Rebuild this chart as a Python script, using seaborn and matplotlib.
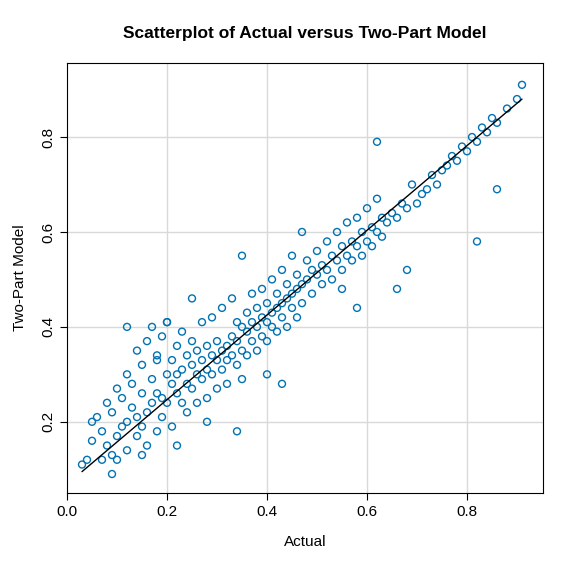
import matplotlib
matplotlib.use("Agg")
import matplotlib.pyplot as plt
import seaborn as sns
import pandas as pd

# Representative points
actual = [0.03,0.04,0.05,0.05,0.06,0.07,0.07,0.08,0.08,0.09,0.09,0.10,0.10,0.10,0.11,0.11,0.12,0.12,0.12,0.13,
          0.13,0.14,0.14,0.14,0.15,0.15,0.15,0.16,0.16,0.16,0.17,0.17,0.17,0.18,0.18,0.18,0.19,0.19,0.19,0.20,
          0.20,0.20,0.21,0.21,0.21,0.22,0.22,0.22,0.23,0.23,0.23,0.24,0.24,0.24,0.25,0.25,0.25,0.26,0.26,0.26,
          0.27,0.27,0.27,0.28,0.28,0.28,0.29,0.29,0.29,0.30,0.30,0.30,0.31,0.31,0.31,0.32,0.32,0.32,0.33,0.33,
          0.33,0.34,0.34,0.34,0.35,0.35,0.35,0.36,0.36,0.36,0.37,0.37,0.37,0.38,0.38,0.38,0.39,0.39,0.39,0.40,
          0.40,0.40,0.41,0.41,0.41,0.42,0.42,0.42,0.43,0.43,0.43,0.44,0.44,0.44,0.45,0.45,0.45,0.46,0.46,0.46,
          0.47,0.47,0.48,0.48,0.49,0.49,0.50,0.50,0.51,0.51,0.52,0.52,0.53,0.53,0.54,0.54,0.55,0.55,0.56,0.56,
          0.57,0.57,0.58,0.58,0.59,0.59,0.60,0.60,0.61,0.61,0.62,0.62,0.63,0.63,0.64,0.65,0.66,0.67,0.68,0.69,
          0.70,0.71,0.72,0.73,0.74,0.75,0.76,0.77,0.78,0.79,0.80,0.81,0.82,0.83,0.84,0.85,0.86,0.88,0.90,0.91,
          0.62,0.86,0.82,0.66,0.12,0.09,0.25,0.34,0.15,0.20,0.43,0.58,0.68,0.35,0.22,0.18,0.28,0.47,0.55,0.40]
model  = [0.11,0.12,0.20,0.16,0.21,0.18,0.12,0.24,0.15,0.22,0.13,0.27,0.17,0.12,0.25,0.19,0.30,0.20,0.14,0.23,
          0.28,0.35,0.21,0.17,0.26,0.32,0.19,0.22,0.37,0.15,0.29,0.24,0.40,0.26,0.33,0.18,0.25,0.38,0.21,0.30,
          0.24,0.41,0.28,0.33,0.19,0.26,0.36,0.30,0.31,0.24,0.39,0.28,0.34,0.22,0.32,0.27,0.37,0.30,0.35,0.24,
          0.33,0.29,0.41,0.31,0.36,0.25,0.34,0.30,0.42,0.33,0.37,0.27,0.35,0.31,0.44,0.36,0.33,0.28,0.38,0.34,
          0.46,0.37,0.32,0.41,0.40,0.35,0.29,0.39,0.43,0.34,0.41,0.37,0.47,0.40,0.44,0.35,0.42,0.38,0.48,0.41,
          0.45,0.37,0.43,0.40,0.50,0.44,0.47,0.39,0.45,0.42,0.52,0.46,0.49,0.40,0.47,0.44,0.55,0.48,0.51,0.42,
          0.49,0.45,0.50,0.54,0.47,0.52,0.51,0.56,0.49,0.53,0.52,0.58,0.50,0.55,0.54,0.60,0.52,0.57,0.55,0.62,
          0.54,0.58,0.57,0.63,0.55,0.60,0.58,0.65,0.57,0.61,0.60,0.67,0.59,0.63,0.62,0.64,0.63,0.66,0.65,0.70,
          0.66,0.68,0.69,0.72,0.70,0.73,0.74,0.76,0.75,0.78,0.77,0.80,0.79,0.82,0.81,0.84,0.83,0.86,0.88,0.91,
          0.79,0.69,0.58,0.48,0.40,0.09,0.46,0.18,0.13,0.41,0.28,0.44,0.52,0.55,0.15,0.34,0.20,0.60,0.48,0.30]
line_x = [0.03, 0.91]
line_y = [0.095, 0.88]

df = pd.DataFrame({"Actual": actual, "Two-Part Model": model})
sns.set_style("white")
plt.rcParams['font.family'] = ['Liberation Sans', 'DejaVu Sans']
plt.rcParams['text.color'] = 'black'
plt.rcParams['axes.labelcolor'] = 'black'
fig = plt.figure(figsize=(5.76, 5.76), dpi=100)
ax = fig.add_axes([67/576, 1-493/576, 476/576, 430/576])
ax.set_xlim(0.0, 0.952)
ax.set_ylim(0.05, 0.956)
for v in [0.2, 0.4, 0.6, 0.8]:
    ax.axvline(v, color="#d9d9d9", lw=1, zorder=0)
for v in [0.2, 0.4, 0.6, 0.8]:
    ax.axhline(v, color="#d9d9d9", lw=1, zorder=0)
sns.scatterplot(data=df, x="Actual", y="Two-Part Model", ax=ax, marker="o",
                facecolors="none", edgecolor="#0072B2", linewidth=1, s=25)
ax.plot(line_x, line_y, color="black", lw=1)
for s in ax.spines.values():
    s.set_color("black")
ax.set_xticks([0.0, 0.2, 0.4, 0.6, 0.8])
ax.set_xticklabels(["0.0", "0.2", "0.4", "0.6", "0.8"])
ax.set_yticks([0.2, 0.4, 0.6, 0.8])
ax.set_yticklabels(["0.2", "0.4", "0.6", "0.8"], rotation=90, va="center")
ax.tick_params(direction="out", length=5, labelsize=11, left=True, bottom=True, colors="black")
ax.set_xlabel("Actual", fontsize=11, labelpad=12, color="black")
ax.set_ylabel("Two-Part Model", fontsize=11, labelpad=10, color="black")
ax.set_title("Scatterplot of Actual versus Two-Part Model", fontsize=12.5, fontweight="bold", pad=18, color="black")
fig.savefig("out.png", dpi=100, facecolor="white")
